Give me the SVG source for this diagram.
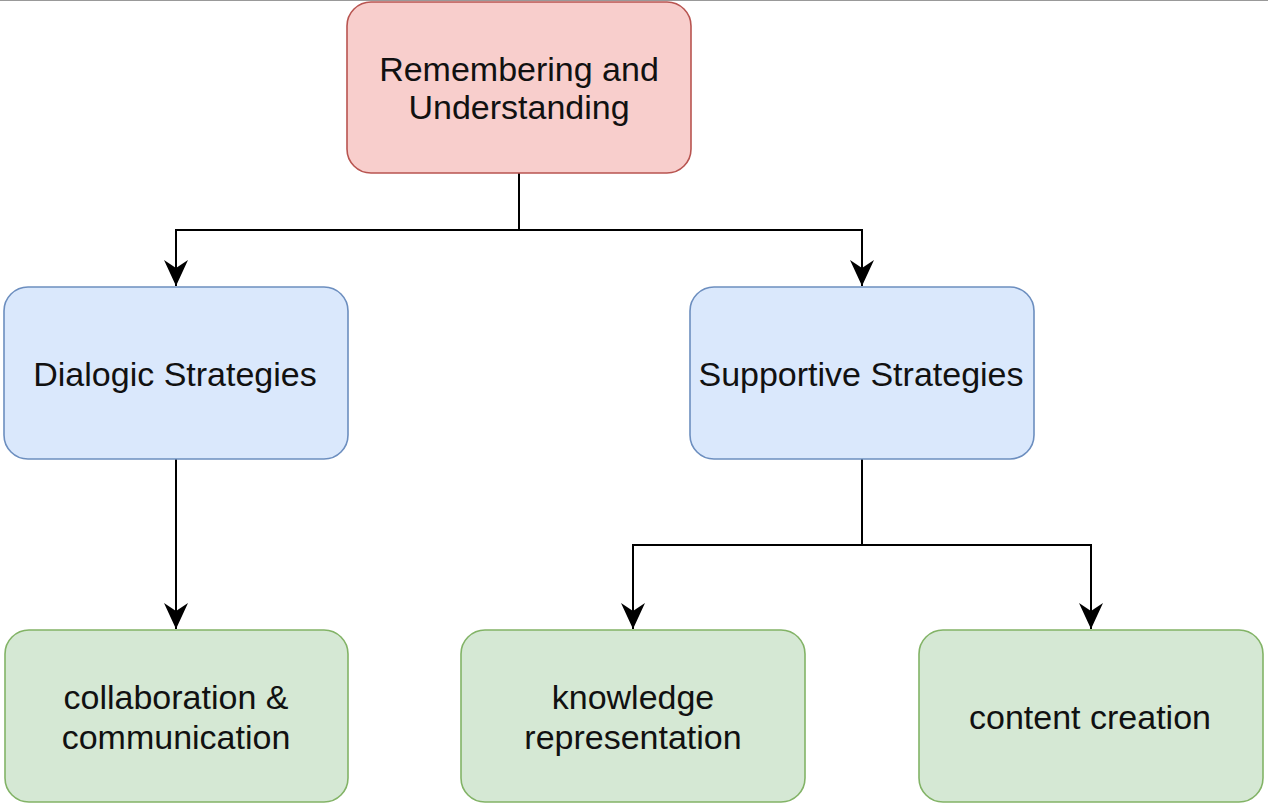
<svg xmlns="http://www.w3.org/2000/svg" width="1268" height="808" viewBox="0 0 1268 808">
<defs>
<style>
.node rect{stroke-width:1.6}
.red rect{fill:#f8cecc;stroke:#b85450}
.blue rect{fill:#dae8fc;stroke:#6c8ebf}
.green rect{fill:#d5e8d4;stroke:#82b366}
.node text{font-family:"Liberation Sans",Arial,sans-serif;font-size:34px;fill:#111;text-anchor:middle}
.edge{fill:none;stroke:#000;stroke-width:2;marker-end:url(#arr)}
</style>
<marker id="arr" markerUnits="userSpaceOnUse" markerWidth="26" markerHeight="26" viewBox="0 0 26 26" refX="26" refY="13" orient="auto">
<path d="M26,13 L0,1 L8,13 L0,25 Z" fill="#000"/>
</marker>
</defs>
<rect width="1268" height="808" fill="#fff"/>
<line x1="0" y1="0.5" x2="1268" y2="0.5" stroke="#999" stroke-width="1"/>
<g id="connectors">
<path class="edge" d="M519,173 V230 H176 V286"/>
<path class="edge" d="M519,230 H862 V286"/>
<path class="edge" d="M176,459 V629"/>
<path class="edge" d="M862,459 V545 H633 V629"/>
<path class="edge" d="M862,545 H1091 V629"/>
</g>
<g id="remembering" class="node red">
<rect x="347" y="2" width="344" height="171" rx="24"/>
<text x="519" y="81">Remembering and</text>
<text x="519" y="119">Understanding</text>
</g>
<g id="dialogic" class="node blue">
<rect x="4" y="287" width="344" height="172" rx="24"/>
<text x="175" y="386">Dialogic Strategies</text>
</g>
<g id="supportive" class="node blue">
<rect x="690" y="287" width="344" height="172" rx="24"/>
<text x="861" y="386">Supportive Strategies</text>
</g>
<g id="collaboration" class="node green">
<rect x="5" y="630" width="343" height="172" rx="24"/>
<text x="176" y="709">collaboration &amp;</text>
<text x="176" y="749">communication</text>
</g>
<g id="knowledge" class="node green">
<rect x="461" y="630" width="344" height="172" rx="24"/>
<text x="633" y="709">knowledge</text>
<text x="633" y="749">representation</text>
</g>
<g id="content" class="node green">
<rect x="919" y="630" width="344" height="172" rx="24"/>
<text x="1090" y="729">content creation</text>
</g>
</svg>
